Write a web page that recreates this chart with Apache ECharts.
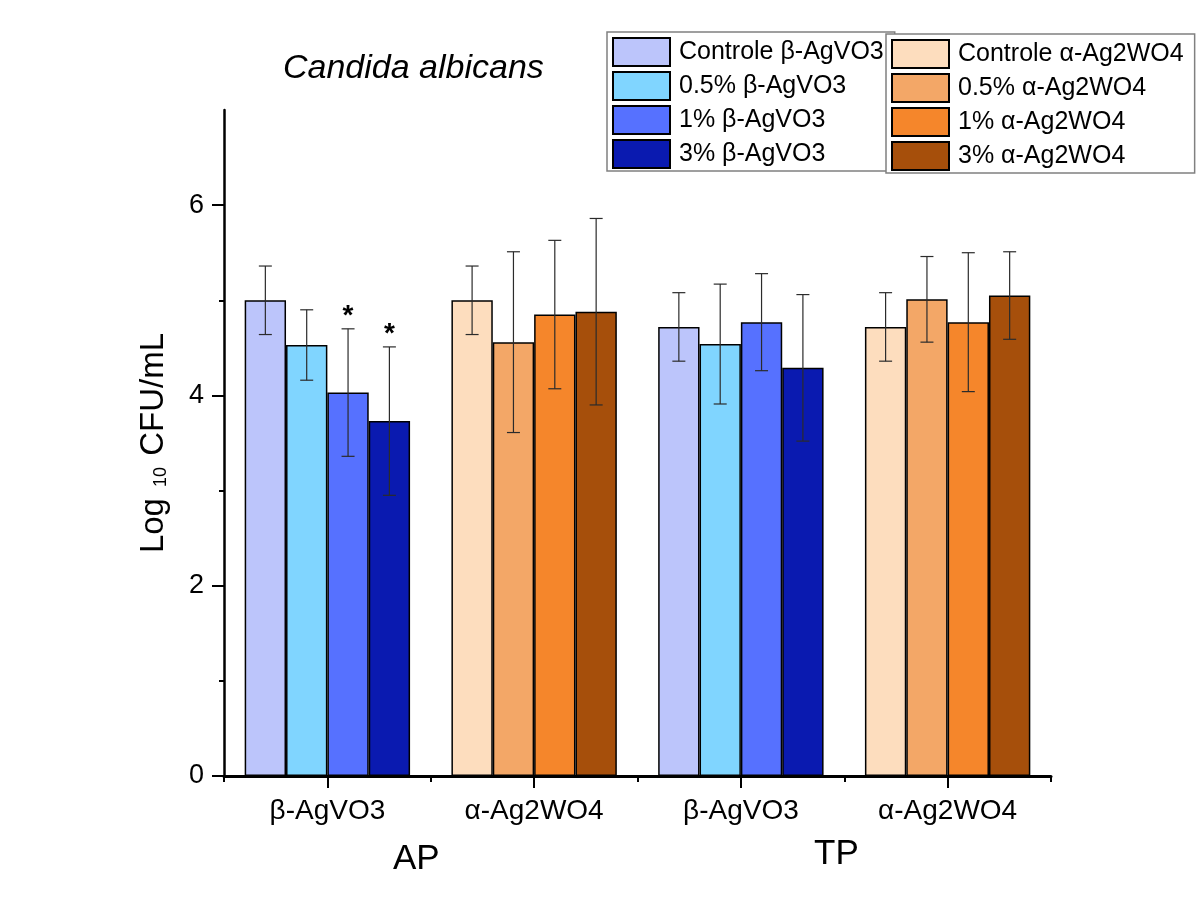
<!DOCTYPE html>
<html>
<head>
<meta charset="utf-8">
<title>Candida albicans</title>
<script src="https://cdn.jsdelivr.net/npm/echarts@6/dist/echarts.min.js"></script>
<style>
  html, body { margin: 0; padding: 0; background: #ffffff; }
  #chart { width: 1202px; height: 915px; }
</style>
</head>
<body>
<div id="chart"></div>
<script>
// Groups on the x axis: period (AP / TP) x material
const periods = ['AP', 'TP'];
const categories = ['AP β-AgVO3', 'AP α-Ag2WO4', 'TP β-AgVO3', 'TP α-Ag2WO4'];
const tickLabels = ['β-AgVO3', 'α-Ag2WO4', 'β-AgVO3', 'α-Ag2WO4'];

// Series (concentration levels) for each material
const betaNames = ['Controle β-AgVO3', '0.5% β-AgVO3', '1% β-AgVO3', '3% β-AgVO3'];
const alphaNames = ['Controle α-Ag2WO4', '0.5% α-Ag2WO4', '1% α-Ag2WO4', '3% α-Ag2WO4'];
const betaColors = ['#BCC5FB', '#80D5FF', '#5671FF', '#0A1AB0'];
const alphaColors = ['#FDDDBE', '#F3A767', '#F5862B', '#A64F0B'];

// Log10 CFU/mL means and standard deviations, in series order
const betaAP = [5.00, 4.53, 4.03, 3.73];
const betaAPErr = [0.36, 0.37, 0.67, 0.78];
const betaTP = [4.72, 4.54, 4.77, 4.29];
const betaTPErr = [0.36, 0.63, 0.51, 0.77];
const alphaAP = [5.00, 4.56, 4.85, 4.88];
const alphaAPErr = [0.36, 0.95, 0.78, 0.98];
const alphaTP = [4.72, 5.01, 4.77, 5.05];
const alphaTPErr = [0.36, 0.45, 0.73, 0.46];

// Significant difference vs. control (*)
const betaAPSig = [false, false, true, true];

// y-axis ticks
const yMajorTicks = [0, 2, 4, 6];
const yMinorTicks = [1, 3, 5];

const FONT = "'Liberation Sans', Arial, Helvetica, sans-serif";
const CATEGORY_GAP = 0.2;
const SLOTS = 4;

const series = [];
betaNames.forEach((name, i) => {
  series.push({
    name, type: 'bar', stack: 's' + i,
    barCategoryGap: '20%', barGap: '0%',
    itemStyle: { color: betaColors[i], borderColor: '#000', borderWidth: 1.5 },
    data: [betaAP[i], '-', betaTP[i], '-']
  });
});
alphaNames.forEach((name, i) => {
  series.push({
    name, type: 'bar', stack: 's' + i,
    barCategoryGap: '20%', barGap: '0%',
    itemStyle: { color: alphaColors[i], borderColor: '#000', borderWidth: 1.5 },
    data: ['-', alphaAP[i], '-', alphaTP[i]]
  });
});

// Error bar records: [category index, slot, mean, sd, significant]
const errData = [];
for (let i = 0; i < SLOTS; i++) {
  errData.push([0, i, betaAP[i], betaAPErr[i], betaAPSig[i] ? 1 : 0]);
  errData.push([1, i, alphaAP[i], alphaAPErr[i], 0]);
  errData.push([2, i, betaTP[i], betaTPErr[i], 0]);
  errData.push([3, i, alphaTP[i], alphaTPErr[i], 0]);
}

series.push({
  type: 'custom',
  name: 'sd',
  z: 10,
  silent: true,
  encode: { x: 0, y: 2 },
  data: errData,
  renderItem(params, api) {
    const cat = api.value(0), slot = api.value(1);
    const mean = api.value(2), sd = api.value(3), sig = api.value(4);
    const band = api.size([1, 0])[0];
    const barW = band * (1 - CATEGORY_GAP) / SLOTS;
    const cx = api.coord([cat, mean])[0] + (slot - (SLOTS - 1) / 2) * barW;
    const yTop = api.coord([cat, mean + sd])[1];
    const yBot = api.coord([cat, mean - sd])[1];
    const cap = 6.5;
    const style = { stroke: '#2b2b2b', lineWidth: 1.2 };
    const children = [
      { type: 'line', shape: { x1: cx, y1: yTop, x2: cx, y2: yBot }, style },
      { type: 'line', shape: { x1: cx - cap, y1: yTop, x2: cx + cap, y2: yTop }, style },
      { type: 'line', shape: { x1: cx - cap, y1: yBot, x2: cx + cap, y2: yBot }, style }
    ];
    if (sig) {
      children.push({
        type: 'text',
        style: {
          text: '*', x: cx, y: yTop - 13,
          align: 'center', verticalAlign: 'middle',
          fontSize: 28, fontWeight: 'bold', fontFamily: FONT, fill: '#000'
        }
      });
    }
    return { type: 'group', children };
  }
});

const legendBase = {
  orient: 'vertical',
  icon: 'rect',
  itemWidth: 57,
  itemHeight: 28,
  itemGap: 4,
  selectedMode: false,
  backgroundColor: '#ffffff',
  borderColor: '#808080',
  borderWidth: 1.5,
  borderRadius: 0,
  textStyle: { fontSize: 25, color: '#000', fontFamily: FONT, padding: [0, 0, 0, 4] }
};

const chart = echarts.init(document.getElementById('chart'), null, { renderer: 'canvas' });
chart.setOption({
  backgroundColor: '#ffffff',
  animation: false,
  textStyle: { fontFamily: FONT },
  title: {
    text: 'Candida albicans',
    left: 283, top: 52, padding: 0,
    textStyle: { fontSize: 34, fontStyle: 'italic', fontWeight: 'normal', color: '#000', fontFamily: FONT }
  },
  legend: [
    Object.assign({}, legendBase, { data: betaNames, left: 607, top: 32, padding: [5, 11, 2, 5] }),
    Object.assign({}, legendBase, { data: alphaNames, left: 886, top: 34, padding: [5, 11, 2, 5] })
  ],
  grid: { left: 224, right: 151, top: 110, bottom: 139, containLabel: false },
  xAxis: [
    {
      type: 'category',
      data: categories,
      boundaryGap: true,
      axisLine: { lineStyle: { color: '#000', width: 3 } },
      axisTick: { show: true, length: 6, alignWithLabel: false, lineStyle: { color: '#000', width: 2 } },
      axisLabel: {
        formatter: (v, i) => tickLabels[i],
        fontSize: 28, color: '#000', margin: 21, fontFamily: FONT
      },
      splitLine: { show: false }
    },
    {
      type: 'category',
      data: categories,
      position: 'bottom',
      boundaryGap: true,
      axisLine: { show: false },
      axisTick: { show: true, length: 12, alignWithLabel: true, lineStyle: { color: '#000', width: 2 } },
      axisLabel: { show: false },
      splitLine: { show: false }
    }
  ],
  yAxis: [
    {
      type: 'value',
      min: 0, max: 7, interval: 1,
      position: 'left',
      name: '{a|Log }{b|10}{a| CFU/mL}',
      nameLocation: 'middle',
      nameRotate: 90,
      nameGap: 54,
      nameTextStyle: {
        rich: {
          a: { fontSize: 33, lineHeight: 33, color: '#000', fontFamily: FONT },
          b: { fontSize: 18, lineHeight: 18, color: '#000', fontFamily: FONT, verticalAlign: 'bottom', padding: [28, 2, 0, 2] }
        }
      },
      axisLine: { show: true, lineStyle: { color: '#000', width: 2.5 } },
      axisTick: { show: true, length: 12, customValues: yMajorTicks, lineStyle: { color: '#000', width: 2 } },
      axisLabel: { customValues: yMajorTicks, fontSize: 27, color: '#000', margin: 20, fontFamily: FONT },
      splitLine: { show: false }
    },
    {
      type: 'value',
      min: 0, max: 7, interval: 1,
      position: 'left',
      axisLine: { show: false },
      axisTick: { show: true, length: 5, customValues: yMinorTicks, lineStyle: { color: '#000', width: 2 } },
      axisLabel: { show: false },
      splitLine: { show: false }
    }
  ],
  graphic: [
    { type: 'text', left: 393, top: 842, style: { text: periods[0], fontSize: 35, fill: '#000', fontFamily: FONT } },
    { type: 'text', left: 814, top: 837, style: { text: periods[1], fontSize: 35, fill: '#000', fontFamily: FONT } }
  ],
  series
});
</script>
</body>
</html>
